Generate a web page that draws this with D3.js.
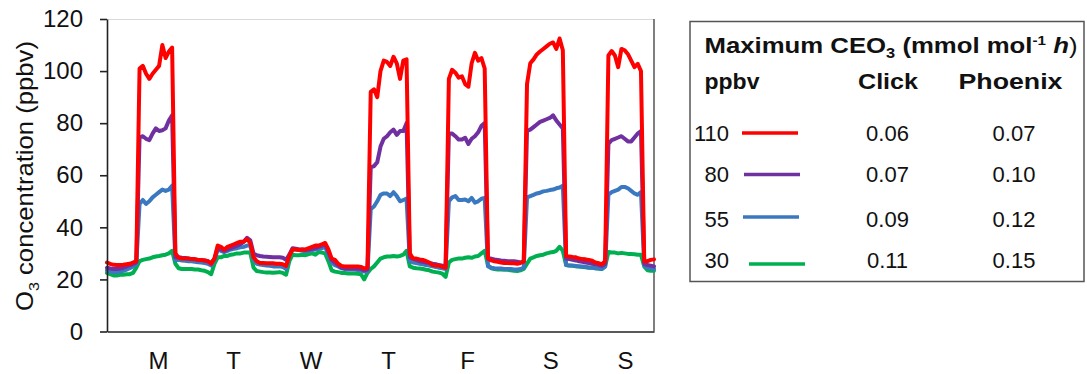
<!DOCTYPE html>
<html><head><meta charset="utf-8">
<script src="https://cdn.jsdelivr.net/npm/d3@7"></script>
<style>
body{margin:0;background:#fff;}
svg{display:block;font-family:"Liberation Sans",Arial,sans-serif;}
</style>
</head><body>
<svg id="c" width="1087" height="374"></svg>
<script>
// ---- data (hourly, Monday 00:00 to Sunday 24:00) ----
const s110 = [26.5,26,25.6,25.5,25.5,25.6,25.8,26,26.5,27,
101,102,99,97,99,100.5,102,110,105,107.5,109,
30,28.3,28,28,28,27.8,27.8,27.5,27.5,27.3,27,26,
28,33,32.5,31.4,32.5,33,33.5,34,34.5,34.5,35.5,34,
28.5,27,26.3,26.3,26.2,26.2,26.2,26,26,25.8,25.2,
29,31.5,31.5,31.3,31.5,31.5,32,32.5,33,33,33.5,34,
31.5,28,27.5,26,25.2,25,25,25,25,25,24.8,24.2,24.5,
92,93,90,100,104,103.5,102,105.5,103,97,104,104.5,
30,28,28,27.7,27.5,27,26.5,25.5,25.3,25.3,24.8,24.5,
97,100.5,99.4,97.5,98,95,94,103,107,104,105,101,
28,27.3,27,26.8,26.5,26.3,26.3,26.2,26.2,26,26.3,26.8,
95,103,104.5,106.4,107.5,108.5,109.5,110.5,111,108.5,112.5,108,
29,28.8,28.6,28.5,28,27.8,27.7,27.5,27.2,26.5,26.2,25.8,27,
106,107.7,106,101.5,108.5,108,106.5,104,101.5,102.8,100,
27,27,27.5,27.7];
const s80 = [24.5,24.2,24,24,24.2,24.5,25,25.5,26,26.5,
74.5,75,74,73.5,76,78,77,77.3,78,81,83,
28.5,28.5,28.3,28.2,28,27.8,27.7,27.5,27.5,27.3,27,26.3,
28,32,31.5,31,31.5,32,32.5,33,33.5,34.5,36,35,
30,29.3,29,28.8,28.7,28.6,28.5,28.5,28.5,28.3,27.5,
29.5,32,31.8,31.5,31.5,31.3,31.5,31.8,32,32.5,33,33.5,
30.5,27.5,26.5,25.5,24.5,24.3,24.2,24.2,24.2,24.2,24,23.5,23.8,
63,63.5,65,71,74,75,76.5,77.5,75.5,77,77,80,
28.5,28,27.5,27,26.8,26.5,26.3,26,25.8,25.5,25.3,25,
76,76,75,73.7,73.7,74.4,72,74,75,76.5,79,80,
28,28,27.7,27.5,27.3,27.2,27,27,27,26.8,26.5,27,
77,77.5,78.5,79.5,80.5,81,81.5,82,83,81,79.5,78,
28,27.8,27.5,27.3,27,26.8,26.5,26.3,26,25.8,25.5,25.2,26,
72,73.5,74,74.5,75,74,73,73,74.5,76,77,
26,25.5,25.3,25];
const s55 = [23.5,23,22.8,22.8,23,23.3,23.8,24.3,25,26,
49,50.5,49,50,51.5,52.5,53.5,54.5,54,54.5,56,
27.5,27.5,27.3,27.2,27,27,26.8,26.6,26.5,26.3,26,25.3,
27.5,31.5,31,30.5,31,31.5,31.8,32,32.3,32.5,33,33,
27.5,26,25.7,25.5,25.3,25.2,25,25,25,24.8,24,
29,31.5,31.5,31.3,31,30.8,31,31.3,31.5,31.8,32,32.5,
29.5,26.5,25.5,25,24.3,24,23.8,23.8,23.8,23.6,23.4,23,23,
47,48,50,52.5,53,53,52,53.5,52,50,50.5,51,
27,26.5,26.3,26,25.8,25.5,25.3,25,24.8,24.5,24.3,24,
50,51.5,52,50.5,50.5,50.7,50,51.3,49.5,50,51,51.3,
25,24.5,24.3,24.2,24.2,24,24,24,23.8,23.8,24,24.5,
51.5,52,52.5,53,53.3,53.8,54,54.3,54.5,55,55.3,56,
25.5,25.3,25.3,25.2,25,25,24.8,24.6,24.5,24.3,24.2,24,25,
52.5,53.5,54,54.5,55.5,55.5,55,54,53,52.5,53.5,
25.5,24.5,24.2,24];
const s30 = [22.5,22,21.5,21.5,21.8,21.8,22,22,22.5,24.5,
27,27.5,27.8,28,28.5,28.8,29,29.3,29.5,30,31,
26,24.3,24,24,24,24,23.8,23.8,23.5,23.3,22.8,22,
26,28.5,28.5,29,29,29.5,29.7,30,30,30.3,30.3,30.3,
24.5,23.2,23,22.8,22.7,22.7,22.6,22.7,22.8,22.5,21.8,
27,29.5,29.3,29.3,29.5,29.3,29.7,30,29.5,30.5,30.3,30,
27,23.5,23,22.8,22.5,22.5,22.3,22.3,22.3,22.2,22,20,22.5,
24,25,26.5,28,28.5,28.8,28.8,29,28.8,29,29.5,31,
25,24.5,24.3,24.2,24,23.7,23.5,23,22.8,22.6,22.2,21,
26.5,27.5,27.8,28,28,28.3,28.5,28.3,28.8,29,30,31,
25.5,24.3,24,23.8,23.8,23.7,23.7,23.5,23.3,23.2,23.5,24,
26,28,28.5,29,29.3,29.5,30,30.3,30.5,31,32.5,31,
25.5,25.3,25.2,25,25,24.8,24.7,24.5,24.5,24.3,24.2,24,25,
30.5,30.3,30.3,30,30.2,30,29.8,29.8,29.7,29.5,29.5,
25,23.5,23.3,23.3];

const dayLabels = ["M","T","W","T","F","S","S"];
const dayTickHours = [15.7, 38.7, 62.5, 86.3, 110.6, 136.1, 159.1];
const yTicks = [0,20,40,60,80,100,120];

const legendPpbv = ["110","80","55","30"];
const clickVals = ["0.06","0.07","0.09","0.11"];
const phoenixVals = ["0.07","0.10","0.12","0.15"];
const seriesColors = ["#ff0000","#7030a0","#3a78c0","#00b050"];

// ---- layout ----
const svg = d3.select("#c");
const x = d3.scaleLinear().domain([0,168]).range([107,654]);
const y = d3.scaleLinear().domain([0,120]).range([331.5,19]);

// plot frame (top light, right darker)
svg.append("line").attr("x1",107).attr("x2",654).attr("y1",19.5).attr("y2",19.5)
  .attr("stroke","#d8d8d8").attr("stroke-width",1.2);
svg.append("line").attr("x1",654).attr("x2",654).attr("y1",19).attr("y2",331.5)
  .attr("stroke","#555").attr("stroke-width",1.5);

// series lines (drawn green -> red so red is on top)
const allSeries = [s110, s80, s55, s30];
const line = d3.line().x((d,i)=>x(i)).y(d=>y(d)).curve(d3.curveLinear);
[3,2,1,0].forEach(k=>{
  svg.append("path").datum(allSeries[k])
    .attr("d", line).attr("fill","none")
    .attr("stroke", seriesColors[k]).attr("stroke-width",4)
    .attr("stroke-linejoin","round").attr("stroke-linecap","round");
});

// y axis
const ya = svg.append("g").attr("transform","translate(107,0)")
  .call(d3.axisLeft(y).tickValues(yTicks).tickSize(7).tickSizeOuter(0).tickPadding(17));
ya.select(".domain").attr("stroke","#222").attr("stroke-width",1.6);
ya.selectAll(".tick line").attr("stroke","#222").attr("stroke-width",1.6);
ya.selectAll(".tick text").attr("font-size",24).attr("fill","#111")
  .attr("font-family","Liberation Sans, Arial, sans-serif");

// x axis
const xa = svg.append("g").attr("transform","translate(0,331.5)")
  .call(d3.axisBottom(x).tickValues(dayTickHours).tickFormat((d,i)=>dayLabels[i])
    .tickSize(0).tickSizeOuter(0).tickPadding(20));
xa.select(".domain").attr("stroke","#222").attr("stroke-width",1.6);
xa.selectAll(".tick text").attr("font-size",24).attr("fill","#111")
  .attr("font-family","Liberation Sans, Arial, sans-serif");

// y axis title
const yt = svg.append("text")
  .attr("transform","translate(33,176) rotate(-90)")
  .attr("text-anchor","middle").attr("font-size",24).attr("fill","#111")
  .attr("textLength",270).attr("lengthAdjust","spacingAndGlyphs");
yt.append("tspan").text("O");
yt.append("tspan").attr("font-size",15).attr("dy",6).text("3");
yt.append("tspan").attr("dy",-6).text(" concentration  (ppbv)");

// ---- legend table ----
const lg = svg.append("g");
lg.append("rect").attr("x",690).attr("y",21.5).attr("width",394).attr("height",260)
  .attr("fill","#fff").attr("stroke","#555").attr("stroke-width",1.5);

const tt = lg.append("text").attr("x",704.5).attr("y",52.5)
  .attr("font-size",22).attr("font-weight","bold").attr("fill","#111")
  .attr("textLength",373).attr("lengthAdjust","spacingAndGlyphs");
tt.append("tspan").text("Maximum CEO");
tt.append("tspan").attr("font-size",14).attr("dy",5).text("3");
tt.append("tspan").attr("dy",-5).text(" (mmol mol");
tt.append("tspan").attr("font-size",13).attr("dy",-8).text("-1");
tt.append("tspan").attr("dy",8).text(" ");
tt.append("tspan").attr("font-style","italic").text("h");
tt.append("tspan").attr("font-weight","normal").text(")");

const hdrY = 88.5;
lg.append("text").attr("x",704.5).attr("y",hdrY).attr("font-size",22).attr("font-weight","bold")
  .attr("fill","#111").attr("textLength",55).attr("lengthAdjust","spacingAndGlyphs").text("ppbv");
lg.append("text").attr("x",888).attr("y",hdrY).attr("text-anchor","middle").attr("font-size",22)
  .attr("font-weight","bold").attr("fill","#111").attr("textLength",60)
  .attr("lengthAdjust","spacingAndGlyphs").text("Click");
lg.append("text").attr("x",1010.5).attr("y",hdrY).attr("text-anchor","middle").attr("font-size",22)
  .attr("font-weight","bold").attr("fill","#111").attr("textLength",104)
  .attr("lengthAdjust","spacingAndGlyphs").text("Phoenix");

const rowBase = [140.7, 182, 226.7, 268.3];
const swatch = [{x1:742,x2:798,y:133},{x1:744,x2:800,y:174.5},{x1:743,x2:799,y:217},{x1:749,x2:805,y:264}];
legendPpbv.forEach((p,i)=>{
  lg.append("text").attr("x",729).attr("y",rowBase[i]).attr("text-anchor","end")
    .attr("font-size",22).attr("fill","#111").text(p);
  lg.append("line").attr("x1",swatch[i].x1).attr("x2",swatch[i].x2)
    .attr("y1",swatch[i].y).attr("y2",swatch[i].y)
    .attr("stroke",seriesColors[i]).attr("stroke-width",3.6);
  lg.append("text").attr("x",887.5).attr("y",rowBase[i]).attr("text-anchor","middle")
    .attr("font-size",22).attr("fill","#111").text(clickVals[i]);
  lg.append("text").attr("x",1014).attr("y",rowBase[i]).attr("text-anchor","middle")
    .attr("font-size",22).attr("fill","#111").text(phoenixVals[i]);
});
</script>
</body></html>
